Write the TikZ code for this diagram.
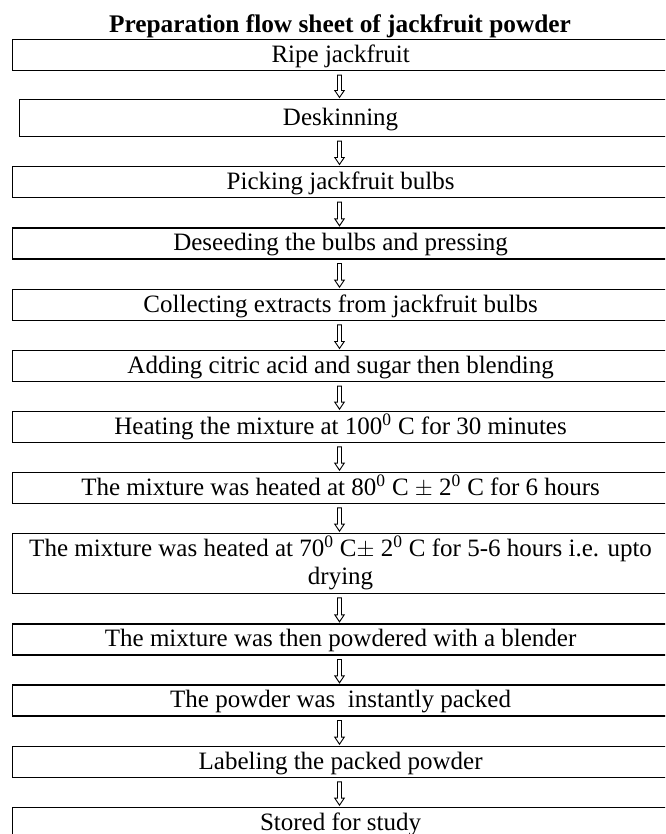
\documentclass[tikz,border=0pt]{standalone}
\usepackage{fontspec}
\setmainfont{Liberation Serif}
\usetikzlibrary{calc}
\newcommand\flowarrow[2]{%
  \draw[arr] ($(axis|-#1.south)+(-2,4)$) -- ($(axis|-#2.north)+(-2,-8.5)$)
    -- ($(axis|-#2.north)+(-4.7,-8.5)$) -- ($(axis|-#2.north)+(0,-1.5)$)
    -- ($(axis|-#2.north)+(4.7,-8.5)$) -- ($(axis|-#2.north)+(2,-8.5)$)
    -- ($(axis|-#1.south)+(2,4)$) -- cycle;}
\begin{document}
\begin{tikzpicture}[x=0.75pt,y=-0.75pt,
  box/.style={draw, line width=0.9pt, anchor=north west, inner xsep=0pt, inner ysep=0pt,
    minimum width=492.75pt, text height=17.25pt, text depth=6pt, align=center,
    font=\fontsize{18.75}{21.4}\selectfont},
  arr/.style={draw, line width=0.7pt, line join=miter}]
\useasboundingbox (0,0) rectangle (665,834);
\clip (0,0) rectangle (665,834);
\coordinate (axis) at (339.5,0);
\node[font=\bfseries\fontsize{19}{22}\selectfont, anchor=base] (title) at (340,33) {Preparation flow sheet of jackfruit powder};
\node[box] (b1) at (11.5,39) {Ripe jackfruit};
\node[box, minimum width=487.1pt, text height=19.5pt, text depth=8.25pt] (b2) at (19,99) {\hspace*{-5.6pt}Deskinning};
\node[box] (b3) at (11.5,166) {Picking jackfruit bulbs};
\node[box] (b4) at (11.5,227.3) {Deseeding the bulbs and pressing};
\node[box] (b5) at (11.5,288.7) {Collecting extracts from jackfruit bulbs};
\node[box] (b6) at (11.5,350) {Adding citric acid and sugar then blending};
\node[box] (b7) at (11.5,410.7) {Heating the mixture at 100\textsuperscript{0} C for 30 minutes};
\node[box] (b8) at (11.5,471.7) {The mixture was heated at 80\textsuperscript{0} C $\pm$ 2\textsuperscript{0} C for 6 hours};
\node[box, text height=38.6pt, text depth=6.4pt] (b9) at (11.5,532.7) {The mixture was heated at 70\textsuperscript{0} C$\pm$ 2\textsuperscript{0} C for 5-6 hours i.e. upto\\drying};
\node[box] (b10) at (11.5,623.3) {The mixture was then powdered with a blender};
\node[box] (b11) at (11.5,684.3) {The powder was\ \ instantly packed};
\node[box] (b12) at (11.5,745.7) {Labeling the packed powder};
\node[box] (b13) at (11.5,806.7) {Stored for study};
\flowarrow{b1}{b2}
\flowarrow{b2}{b3}
\flowarrow{b3}{b4}
\flowarrow{b4}{b5}
\flowarrow{b5}{b6}
\flowarrow{b6}{b7}
\flowarrow{b7}{b8}
\flowarrow{b8}{b9}
\flowarrow{b9}{b10}
\flowarrow{b10}{b11}
\flowarrow{b11}{b12}
\flowarrow{b12}{b13}
\end{tikzpicture}
\end{document}
